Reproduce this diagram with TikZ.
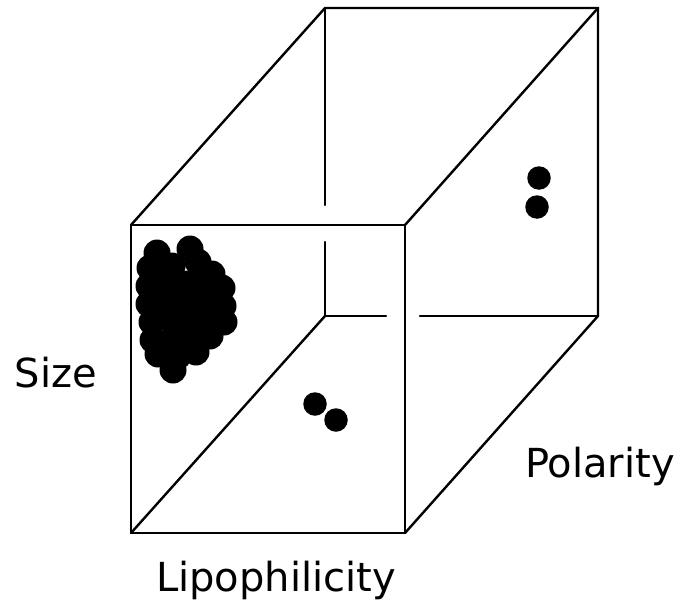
\documentclass[tikz,border=0pt]{standalone}
\usepackage{fontspec}
\setmainfont{DejaVu Sans}
\usepackage{tikz}
\usetikzlibrary{positioning, calc}
\tikzset{
	edgeline/.style={line width=2.4pt, line cap=round}
}
\tikzset{
	axistext/.style={font=\fontsize{40}{48}\selectfont, inner sep=0pt, anchor=base}
}
\tikzset{
	molecule/.style={shape=circle, fill=black, minimum size=23.5pt, inner sep=0pt}
}

\begin{document}
\begin{tikzpicture}[x=1pt, y=-1pt]

              \useasboundingbox (0,0) rectangle (685,605);

              % cube corners
              \coordinate (fbl) at (131,533);
              \coordinate (fbr) at (405,533);
              \coordinate (ftl) at (131,225);
              \coordinate (ftr) at (405,225);
              \coordinate (bbl) at (325,316);
              \coordinate (bbr) at (598,316);
              \coordinate (btl) at (325,8);
              \coordinate (btr) at (598,8);

              % ends of the broken hidden edges
              \coordinate (gap1) at (325,205);
              \coordinate (gap2) at (325,242);
              \coordinate (gap3) at (386,316);
              \coordinate (gap4) at (420,316);

              \draw[edgeline] (ftl) rectangle (fbr);
              \draw[edgeline] (ftl) -- (btl) -- (btr) -- (bbr) -- (fbr);
              \draw[edgeline] (ftr) -- (btr);
              \draw[edgeline] (fbl) -- (bbl);
              \draw[edgeline] (btl) -- (gap1);
              \draw[edgeline] (gap2) -- (bbl) -- (gap3);
              \draw[edgeline] (gap4) -- (bbr);

              % the cluster in the corner
              \foreach \px/\py in {157/253, 190/249, 150/268, 172/266, 198/262, 212/274,
                149/286, 168/284, 188/284, 206/286, 222/288,
                149/304, 168/302, 188/302, 206/304, 223/306,
                152/322, 171/320, 190/320, 208/322, 224/322,
                153/340, 173/340, 192/338, 210/336,
                158/354, 178/356, 196/352, 173/370} {
                  \fill (\px,\py) circle (13.5);
                }

              \node[molecule] (m1) at (539,178) {};
              \node[molecule] (m2) at (537,207) {};
              \node[molecule] (m3) at (315,404) {};
              \node[molecule] (m4) at (336,420) {};

              \node[axistext] (size) at (56,387) {Size};
              \node[axistext] (polarity) at (600,477) {Polarity};
              \node[axistext] (lipo) at (276,591) {Lipophilicity};
            \end{tikzpicture}
\end{document}
